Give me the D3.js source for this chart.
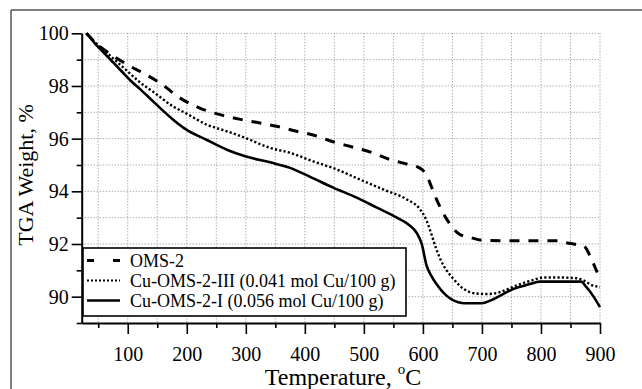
<!DOCTYPE html>
<html>
<head>
<meta charset="utf-8">
<script src="https://cdn.jsdelivr.net/npm/d3@7"></script>
<style>
  html, body { margin: 0; padding: 0; background: #fff; overflow: hidden; }
  svg { display: block; font-family: "Liberation Serif", "DejaVu Serif", serif; }
</style>
</head>
<body>
<svg id="chart" width="642" height="389"></svg>
<script>
// ---- data ----
const seriesNames = ["OMS-2", "Cu-OMS-2-III (0.041 mol Cu/100 g)", "Cu-OMS-2-I (0.056 mol Cu/100 g)"];

const tempOMS2 = [30, 50, 75, 100, 126, 157, 186, 222, 256, 287, 318, 352, 386, 417, 448, 479, 513, 544, 575, 595, 606, 614, 622, 634, 646, 662, 680, 700, 760, 830, 840, 855, 868, 876, 883, 890, 900];
const wOMS2    = [100, 99.55, 99.15, 98.8, 98.49, 98.08, 97.58, 97.16, 96.91, 96.75, 96.62, 96.47, 96.28, 96.12, 95.88, 95.69, 95.48, 95.21, 95.02, 94.88, 94.62, 94.2, 93.75, 93.19, 92.75, 92.37, 92.25, 92.14, 92.12, 92.12, 92.06, 92.0, 91.96, 91.85, 91.55, 91.2, 90.65];

const tempCuIII = [30, 45, 60, 75, 90, 105, 119, 146, 177, 198, 234, 268, 299, 341, 375, 414, 454, 493, 533, 572, 595, 606, 614, 622, 630, 640, 650, 662, 675, 690, 708, 725, 745, 765, 785, 805, 830, 860, 872, 884, 900];
const wCuIII    = [100, 99.65, 99.35, 99.05, 98.75, 98.45, 98.17, 97.73, 97.22, 96.97, 96.53, 96.28, 96.03, 95.65, 95.46, 95.14, 94.83, 94.45, 94.07, 93.7, 93.32, 92.9, 92.4, 91.85, 91.4, 91.0, 90.72, 90.42, 90.22, 90.12, 90.1, 90.14, 90.3, 90.48, 90.62, 90.73, 90.73, 90.7, 90.62, 90.46, 90.36];

const tempCuI = [30, 45, 60, 75, 90, 105, 121, 146, 177, 198, 234, 268, 299, 341, 375, 409, 448, 488, 522, 556, 575, 590, 598, 606, 614, 623, 632, 640, 650, 660, 670, 700, 714, 731, 753, 781, 798, 868, 877, 888, 900];
const wCuI    = [100, 99.6, 99.25, 98.9, 98.55, 98.2, 97.88, 97.35, 96.72, 96.36, 95.95, 95.58, 95.33, 95.1, 94.89, 94.55, 94.14, 93.76, 93.38, 93.0, 92.75, 92.4, 92.0, 91.2, 90.8, 90.48, 90.22, 90.04, 89.88, 89.79, 89.75, 89.75, 89.85, 90.04, 90.29, 90.48, 90.57, 90.57, 90.36, 90.04, 89.6];

const xMajorTicks = [100, 200, 300, 400, 500, 600, 700, 800, 900];
const xMinorTicks = [50, 150, 250, 350, 450, 550, 650, 750, 850];
const yMajorTicks = [90, 92, 94, 96, 98, 100];
const yMinorTicks = [89, 91, 93, 95, 97, 99];
const xGrid = d3.range(50, 901, 50);
const yGrid = d3.range(90, 101, 1);

const xTitle = "Temperature, ";
const yTitle = "TGA Weight, %";

// ---- layout ----
const svg = d3.select("#chart");
const pLeft = 81.7, pRight = 600, pTop = 33.3, pBottom = 323;
const x = d3.scaleLinear().domain([22, 900]).range([pLeft, pRight]);
const y = d3.scaleLinear().domain([89, 100]).range([pBottom, pTop]);
const serif = "Liberation Serif, DejaVu Serif, serif";

// outer frame (top and left edges visible)
svg.append("line").attr("x1", 11).attr("x2", 642).attr("y1", 10).attr("y2", 10)
  .attr("stroke", "#555").attr("stroke-width", 1.5);
svg.append("line").attr("x1", 11).attr("x2", 11).attr("y1", 10).attr("y2", 389)
  .attr("stroke", "#555").attr("stroke-width", 1.5);

// grid
const grid = svg.append("g").attr("stroke", "#8a8a8a").attr("stroke-width", 1).attr("stroke-dasharray", "1,2");
grid.selectAll(".gx").data(xGrid).enter().append("line")
  .attr("x1", d => x(d)).attr("x2", d => x(d)).attr("y1", pTop).attr("y2", pBottom);
grid.selectAll(".gy").data(yGrid).enter().append("line")
  .attr("x1", pLeft).attr("x2", pRight).attr("y1", d => y(d)).attr("y2", d => y(d));

// series lines
const line = d3.line().x(d => x(d[0])).y(d => y(d[1])).curve(d3.curveMonotoneX);
const zip = (a, b) => a.map((t, i) => [t, b[i]]);
const series = [
  { name: seriesNames[0], data: zip(tempOMS2, wOMS2), dash: "10,9", width: 3, legendDash: "7,19", legendWidth: 3 },
  { name: seriesNames[1], data: zip(tempCuIII, wCuIII), dash: "2.2,2.2", width: 2.4, legendDash: "2,2", legendWidth: 1.8 },
  { name: seriesNames[2], data: zip(tempCuI, wCuI), dash: null, width: 2.6, legendDash: null, legendWidth: 2.6 }
];
series.forEach(s => {
  svg.append("path").datum(s.data).attr("d", line)
    .attr("fill", "none").attr("stroke", "#000").attr("stroke-width", s.width)
    .attr("stroke-dasharray", s.dash);
});

// axes
const xAxis = svg.append("g").attr("transform", `translate(0,${pBottom})`)
  .call(d3.axisBottom(x).tickValues(xMajorTicks).tickSize(11).tickSizeOuter(0).tickFormat(d3.format("d")));
xAxis.attr("font-family", serif);
xAxis.selectAll("text").attr("y", 24).attr("font-size", 20).attr("font-family", serif).attr("fill", "#000");
const xAxisMinor = svg.append("g").attr("transform", `translate(0,${pBottom})`)
  .call(d3.axisBottom(x).tickValues(xMinorTicks).tickSize(5).tickSizeOuter(0).tickFormat(""));
xAxisMinor.select(".domain").remove();

const yAxis = svg.append("g").attr("transform", `translate(${pLeft},0)`)
  .call(d3.axisLeft(y).tickValues(yMajorTicks).tickSize(10).tickSizeOuter(0).tickFormat(d3.format("d")));
yAxis.attr("font-family", serif);
yAxis.selectAll("text").attr("x", -13).attr("font-size", 20).attr("font-family", serif).attr("fill", "#000");
const yAxisMinor = svg.append("g").attr("transform", `translate(${pLeft},0)`)
  .call(d3.axisLeft(y).tickValues(yMinorTicks).tickSize(5).tickSizeOuter(0).tickFormat(""));
yAxisMinor.select(".domain").remove();

svg.selectAll(".domain").attr("stroke", "#000").attr("stroke-width", 2);
svg.selectAll(".tick line").attr("stroke", "#000").attr("stroke-width", 1.6);

// axis titles
const xt = svg.append("text").attr("x", 343).attr("y", 385).attr("text-anchor", "middle")
  .attr("font-family", serif).attr("font-size", 24).attr("fill", "#000");
xt.append("tspan").text(xTitle);
xt.append("tspan").attr("font-size", 15).attr("dy", -11).text("o");
xt.append("tspan").attr("dy", 11).text("C");

svg.append("text").attr("transform", "translate(33,175) rotate(-90)").attr("text-anchor", "middle")
  .attr("font-family", serif).attr("font-size", 22).attr("fill", "#000").text(yTitle);

// legend
const lg = svg.append("g");
lg.append("rect").attr("x", 83).attr("y", 248).attr("width", 323).attr("height", 68)
  .attr("fill", "#fff").attr("stroke", "#000").attr("stroke-width", 1.6);
const rowY = [260.5, 280.5, 300.5];
series.forEach((s, i) => {
  lg.append("line").attr("x1", 87).attr("x2", 120).attr("y1", rowY[i]).attr("y2", rowY[i])
    .attr("stroke", "#000").attr("stroke-width", s.legendWidth).attr("stroke-dasharray", s.legendDash);
  lg.append("text").attr("x", 130).attr("y", rowY[i] + 6.3).attr("font-family", serif)
    .attr("font-size", 18).attr("fill", "#000").text(s.name);
});
</script>
</body>
</html>
